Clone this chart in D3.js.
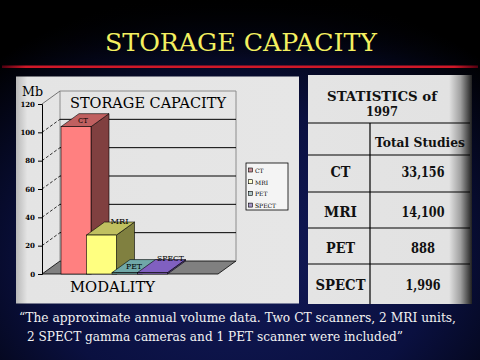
<!DOCTYPE html>
<html><head><meta charset="utf-8">
<script src="https://cdn.jsdelivr.net/npm/d3@7"></script>
<style>html,body{margin:0;padding:0;background:#000;}svg{display:block;}
svg text{font-family:"DejaVu Serif","Liberation Serif","Times New Roman",serif;}</style>
</head><body>
<script>
const categories = ["CT", "MRI", "PET", "SPECT"];
const storageMb = [104, 27.5, 1, 1];
const yTicks = [0, 20, 40, 60, 80, 100, 120];
const tableRows = ["CT", "MRI", "PET", "SPECT"];
const totalStudies = ["33,156", "14,100", "888", "1,996"];
const barFront = ["#ff8080", "#ffff80", "#70a8a8", "#9070c8"];
const barTop = ["#c06060", "#c0c060", "#70a8a8", "#8060c0"];
const barSide = ["#804040", "#808040", "#508080", "#604890"];
const legendColors = ["#c89098", "#ffffd0", "#b0c8c8", "#a898c8"];
const footLines = ["\u201CThe approximate annual volume data. Two CT scanners, 2 MRI units,",
                   "2 SPECT gamma cameras and 1 PET scanner were included\u201D"];

const W = 480, H = 360;
const svg = d3.select("body").append("svg").attr("width", W).attr("height", H);
const defs = svg.append("defs");

// squeeze a serif text to the width the reference's Times glyphs take
function fit(sel, w) {
  sel.attr("textLength", w).attr("lengthAdjust", "spacingAndGlyphs");
  return sel;
}

const bg = defs.append("radialGradient").attr("id", "bg").attr("cx", "0.5").attr("cy", "0.72").attr("r", "0.75");
bg.append("stop").attr("offset", "0").attr("stop-color", "#121a58");
bg.append("stop").attr("offset", "0.55").attr("stop-color", "#0a1040");
bg.append("stop").attr("offset", "1").attr("stop-color", "#000000");
svg.append("rect").attr("width", W).attr("height", H).attr("fill", "url(#bg)");
const topFade = defs.append("linearGradient").attr("id", "topfade").attr("x1", 0).attr("y1", 0).attr("x2", 0).attr("y2", 1);
topFade.append("stop").attr("offset", "0").attr("stop-color", "#000").attr("stop-opacity", 1);
topFade.append("stop").attr("offset", "1").attr("stop-color", "#000").attr("stop-opacity", 0);
svg.append("rect").attr("width", W).attr("height", 60).attr("fill", "url(#topfade)");

const redG = defs.append("linearGradient").attr("id", "red");
redG.append("stop").attr("offset", "0").attr("stop-color", "#500010");
redG.append("stop").attr("offset", "0.05").attr("stop-color", "#d01828");
redG.append("stop").attr("offset", "0.95").attr("stop-color", "#d01828");
redG.append("stop").attr("offset", "1").attr("stop-color", "#500010");
svg.append("rect").attr("x", 2).attr("y", 65.5).attr("width", 476).attr("height", 2.5).attr("fill", "url(#red)");

fit(svg.append("text").attr("x", 241).attr("y", 51).attr("text-anchor", "middle")
  .attr("font-size", 25).attr("fill", "#f4f060").text("STORAGE CAPACITY"), 272);

// panels
const lp = defs.append("linearGradient").attr("id", "lp");
lp.append("stop").attr("offset", "0").attr("stop-color", "#b8b8b8");
lp.append("stop").attr("offset", "0.04").attr("stop-color", "#e4e4e4");
lp.append("stop").attr("offset", "1").attr("stop-color", "#e6e6e6");
svg.append("rect").attr("x", 16).attr("y", 76.5).attr("width", 283).attr("height", 227).attr("fill", "url(#lp)");
const rp = defs.append("linearGradient").attr("id", "rp");
rp.append("stop").attr("offset", "0").attr("stop-color", "#e4e4e4");
rp.append("stop").attr("offset", "0.86").attr("stop-color", "#e2e2e2");
rp.append("stop").attr("offset", "0.93").attr("stop-color", "#a0a0a0");
rp.append("stop").attr("offset", "1").attr("stop-color", "#202020");
svg.append("rect").attr("x", 308).attr("y", 75).attr("width", 164).attr("height", 229).attr("fill", "url(#rp)");

// 3D chart
const dx = 18, dy = -13;
const y = d3.scaleLinear().domain([0, 120]).range([274, 104]);
const x = d3.scaleLinear().domain([0, categories.length - 1]).range([61, 137.5]);
const bw = 30;
const x0 = 42, x1 = 218;
const chart = svg.append("g");

const floorPts = [[x0, y(0)], [x1, y(0)], [x1 + dx, y(0) + dy], [x0 + dx, y(0) + dy]];
chart.append("polygon").attr("points", floorPts.map(p => p.join(",")).join(" "))
  .attr("fill", "#808080").attr("stroke", "#000").attr("stroke-width", 0.8);

chart.append("path")
  .attr("d", `M${x0 + dx},${y(0) + dy}V${y(120) + dy}H${x1 + dx}V${y(0) + dy}`)
  .attr("fill", "none").attr("stroke", "#8c8c8c").attr("stroke-width", 1);
chart.append("line").attr("x1", x0).attr("y1", y(120)).attr("x2", x0 + dx).attr("y2", y(120) + dy)
  .attr("stroke", "#555").attr("stroke-width", 0.8);

yTicks.filter(t => t > 0 && t < 120).forEach(t => {
  chart.append("line").attr("x1", x0 + dx).attr("x2", x1 + dx)
    .attr("y1", y(t) + dy).attr("y2", y(t) + dy).attr("stroke", "#000").attr("stroke-width", 1);
  chart.append("line").attr("x1", x0).attr("y1", y(t)).attr("x2", x0 + dx).attr("y2", y(t) + dy)
    .attr("stroke", "#000").attr("stroke-width", 0.8).attr("stroke-dasharray", "3,2");
});

const labelW = [10, 18, 16, 27];
categories.forEach((c, i) => {
  const bx = x(i), by = y(storageMb[i]), b0 = y(0);
  const g = chart.append("g");
  g.append("polygon").attr("points", [[bx + bw, b0], [bx + bw + dx, b0 + dy], [bx + bw + dx, by + dy], [bx + bw, by]].map(p => p.join(",")).join(" "))
    .attr("fill", barSide[i]).attr("stroke", "#000").attr("stroke-width", 0.6);
  g.append("polygon").attr("points", [[bx, by], [bx + bw, by], [bx + bw + dx, by + dy], [bx + dx, by + dy]].map(p => p.join(",")).join(" "))
    .attr("fill", barTop[i]).attr("stroke", "#000").attr("stroke-width", 0.6);
  g.append("rect").attr("x", bx).attr("y", by).attr("width", bw).attr("height", b0 - by)
    .attr("fill", barFront[i]).attr("stroke", "#000").attr("stroke-width", 0.6);
  // labels staggered like the reference (alternating depth)
  const odd = i % 2 === 1;
  fit(g.append("text").attr("x", bx + bw / 2 + (odd ? 18 : 7)).attr("y", by + (odd ? -11.5 : -4))
    .attr("text-anchor", "middle").attr("font-size", 8).attr("fill", "#000").text(c), labelW[i]);
});

const axis = chart.append("g").attr("transform", `translate(${x0},0)`)
  .call(d3.axisLeft(y).tickValues(yTicks).tickSize(4).tickPadding(3));
axis.select(".domain").attr("stroke", "#000");
axis.selectAll("line").attr("stroke", "#000");
axis.selectAll("text").attr("font-size", 7).attr("font-weight", "bold").attr("fill", "#000");

fit(chart.append("text").attr("x", 22).attr("y", 96).attr("font-size", 13).attr("fill", "#000").text("Mb"), 21);
fit(chart.append("text").attr("x", 70).attr("y", 108).attr("font-size", 14).attr("fill", "#000").text("STORAGE CAPACITY"), 156);
fit(chart.append("text").attr("x", 70).attr("y", 292).attr("font-size", 14).attr("fill", "#000").text("MODALITY"), 85);

const leg = svg.append("g").attr("transform", "translate(246,163)");
leg.append("rect").attr("width", 42).attr("height", 47).attr("fill", "#f4f4f4").attr("stroke", "#000").attr("stroke-width", 0.8);
categories.forEach((c, i) => {
  leg.append("rect").attr("x", 2.5).attr("y", 5 + i * 11.7).attr("width", 4).attr("height", 4)
    .attr("fill", legendColors[i]).attr("stroke", "#000").attr("stroke-width", 0.6);
  leg.append("text").attr("x", 9).attr("y", 10 + i * 11.7).attr("font-size", 6).attr("fill", "#000").text(c);
});

fit(svg.append("text").attr("x", 382).attr("y", 101).attr("text-anchor", "middle")
  .attr("font-weight", "bold").attr("font-size", 13).attr("fill", "#111").text("STATISTICS of"), 110);
fit(svg.append("text").attr("x", 382).attr("y", 115.5).attr("text-anchor", "middle")
  .attr("font-weight", "bold").attr("font-size", 13).attr("fill", "#111").text("1997"), 32);
const lineYs = [123, 155, 192, 228, 264];
lineYs.forEach(ly => svg.append("line").attr("x1", 308).attr("x2", 470).attr("y1", ly).attr("y2", ly)
  .attr("stroke", "#000").attr("stroke-width", 1.2));
svg.append("line").attr("x1", 370).attr("x2", 370).attr("y1", 123).attr("y2", 304).attr("stroke", "#000").attr("stroke-width", 1.2);
fit(svg.append("text").attr("x", 420).attr("y", 147).attr("text-anchor", "middle")
  .attr("font-weight", "bold").attr("font-size", 13).attr("fill", "#111").text("Total Studies"), 90);
const rowLabelW = [20, 33, 29, 50];
const valueW = [43, 43, 24, 35];
const rowBase = [177, 216.5, 252.5, 290];
tableRows.forEach((r, i) => {
  fit(svg.append("text").attr("x", 340.5).attr("y", rowBase[i]).attr("text-anchor", "middle")
    .attr("font-weight", "bold").attr("font-size", 14.5).attr("fill", "#111").text(r), rowLabelW[i]);
  fit(svg.append("text").attr("x", 423).attr("y", rowBase[i]).attr("text-anchor", "middle")
    .attr("font-weight", "bold").attr("font-size", 14.5).attr("fill", "#111").text(totalStudies[i]), valueW[i]);
});

fit(svg.append("text").attr("x", 19).attr("y", 322).attr("font-size", 12.5)
  .attr("fill", "#f2f2f2").text(footLines[0]), 437);
fit(svg.append("text").attr("x", 27).attr("y", 341).attr("font-size", 12.5)
  .attr("fill", "#f2f2f2").text(footLines[1]), 376);
</script>
</body></html>
